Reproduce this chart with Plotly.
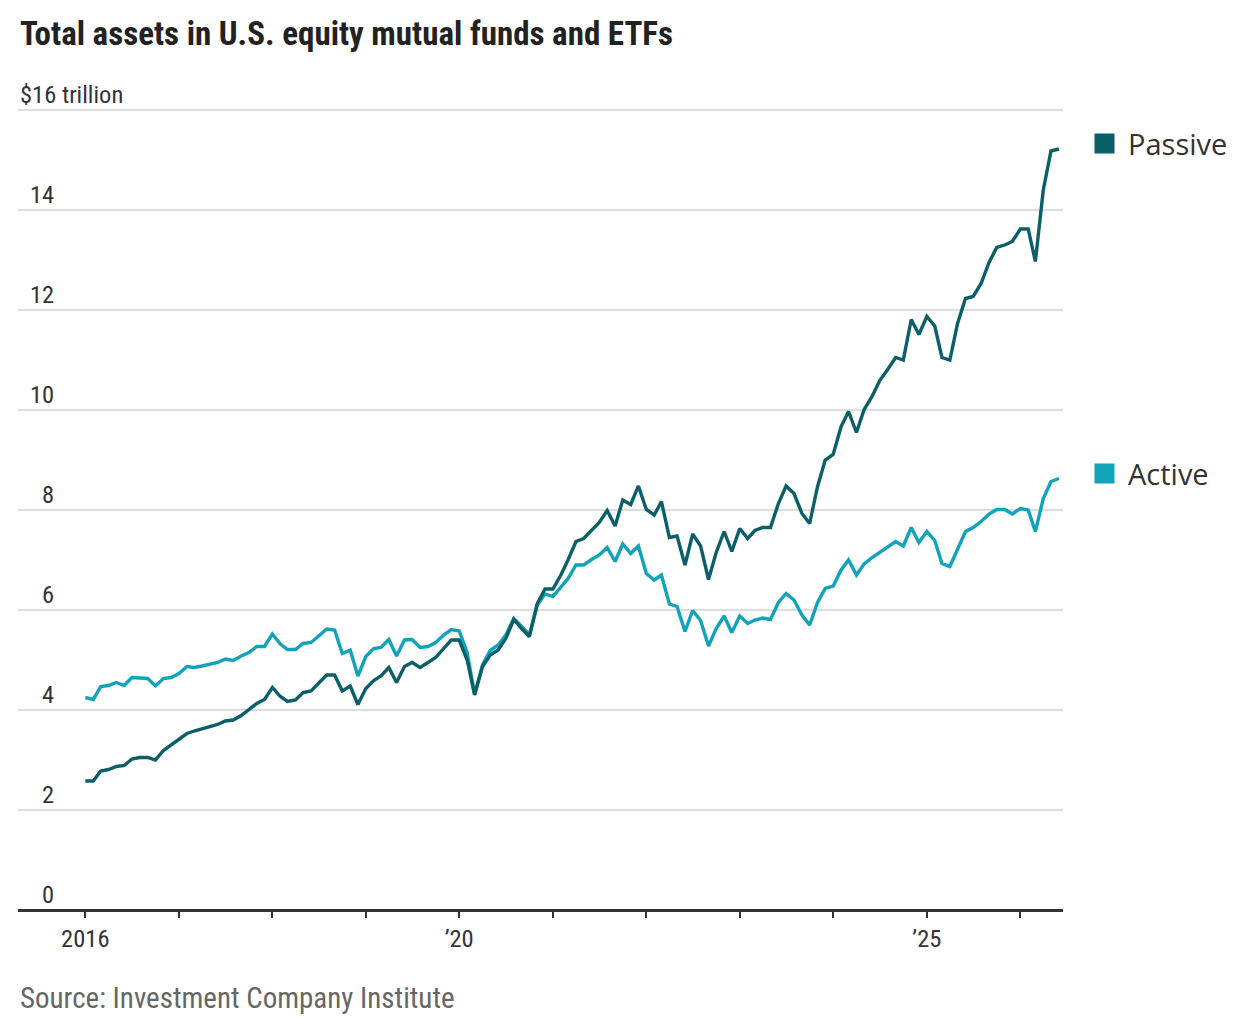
import pandas as pd
import plotly.graph_objects as go

# monthly, Jan 2016 - Jun 2026, $ trillion
months = pd.date_range("2016-01-01", "2026-06-01", freq="MS")

passive = [
    2.58, 2.58, 2.78, 2.81, 2.87, 2.89, 3.02, 3.05, 3.05, 3.00, 3.19, 3.30,
    3.40, 3.53, 3.58, 3.62, 3.67, 3.71, 3.78, 3.80, 3.89, 4.00, 4.13, 4.21,
    4.45, 4.27, 4.17, 4.20, 4.35, 4.38, 4.53, 4.70, 4.70, 4.38, 4.48, 4.11,
    4.43, 4.59, 4.68, 4.85, 4.55, 4.87, 4.95, 4.85, 4.95, 5.05, 5.23, 5.40,
    5.40, 5.00, 4.30, 4.87, 5.10, 5.20, 5.43, 5.81, 5.63, 5.47, 6.13, 6.42,
    6.42, 6.70, 7.00, 7.37, 7.43, 7.60, 7.75, 7.99, 7.68, 8.20, 8.11, 8.48,
    8.01, 7.90, 8.17, 7.45, 7.48, 6.90, 7.52, 7.28, 6.61, 7.15, 7.57, 7.17,
    7.63, 7.43, 7.59, 7.65, 7.65, 8.13, 8.48, 8.33, 7.93, 7.73, 8.47, 9.00,
    9.11, 9.67, 9.97, 9.55, 10.01, 10.27, 10.59, 10.81, 11.05, 11.00, 11.81, 11.51,
    11.87, 11.68, 11.05, 11.00, 11.73, 12.23, 12.27, 12.53, 12.95, 13.25, 13.30, 13.37,
    13.62, 13.62, 12.97, 14.40, 15.18, 15.22,
]

active = [
    4.25, 4.21, 4.47, 4.49, 4.55, 4.49, 4.65, 4.64, 4.63, 4.48, 4.63, 4.65,
    4.73, 4.87, 4.85, 4.88, 4.92, 4.95, 5.02, 4.99, 5.08, 5.15, 5.27, 5.27,
    5.52, 5.32, 5.21, 5.21, 5.33, 5.35, 5.48, 5.62, 5.60, 5.13, 5.20, 4.68,
    5.07, 5.23, 5.25, 5.41, 5.08, 5.40, 5.41, 5.25, 5.27, 5.35, 5.50, 5.61,
    5.58, 5.15, 4.32, 4.90, 5.19, 5.30, 5.50, 5.83, 5.67, 5.50, 6.10, 6.32,
    6.27, 6.47, 6.63, 6.90, 6.90, 7.01, 7.10, 7.25, 6.97, 7.32, 7.13, 7.28,
    6.73, 6.60, 6.70, 6.12, 6.07, 5.57, 5.99, 5.79, 5.28, 5.63, 5.88, 5.55,
    5.88, 5.73, 5.80, 5.84, 5.81, 6.15, 6.33, 6.20, 5.90, 5.70, 6.15, 6.43,
    6.48, 6.80, 7.00, 6.70, 6.92, 7.05, 7.15, 7.25, 7.37, 7.28, 7.65, 7.35,
    7.57, 7.39, 6.93, 6.87, 7.23, 7.57, 7.65, 7.77, 7.92, 8.01, 8.01, 7.92,
    8.03, 8.00, 7.57, 8.23, 8.57, 8.63,
]

y_ticks = [0, 2, 4, 6, 8, 10, 12, 14, 16]
y_labels = ["0", "2", "4", "6", "8", "10", "12", "14", "$16 trillion"]
x_ticks = [f"{yr}-01-01" for yr in range(2016, 2027)]
x_labels = ["2016", "", "", "", "\u201920", "", "", "", "", "\u201925", ""]

PASSIVE = "#0b5f69"
ACTIVE = "#10a3ba"
NARROW = "Liberation Sans Narrow, Roboto Condensed, DejaVu Sans Condensed, Roboto, sans-serif"

fig = go.Figure()
fig.add_trace(go.Scatter(x=months, y=active, mode="lines", name="Active",
                         line=dict(color=ACTIVE, width=3.4)))
fig.add_trace(go.Scatter(x=months, y=passive, mode="lines", name="Passive",
                         line=dict(color=PASSIVE, width=3.4)))

# y labels sit above the gridlines
for v, t in zip(y_ticks, y_labels):
    if v == 16:
        fig.add_annotation(x=0, xref="paper", y=v, yref="y", text=t, showarrow=False,
                           xanchor="left", yanchor="bottom", yshift=-1,
                           font=dict(family=NARROW, size=24.5, color="#333"))
    else:
        fig.add_annotation(x=0.0365, xref="paper", y=v, yref="y", text=t, showarrow=False,
                           xanchor="right", yanchor="bottom", yshift=-1,
                           font=dict(family=NARROW, size=24.5, color="#333"))

# end labels
for name, col, yv in [("Passive", PASSIVE, 15.34), ("Active", ACTIVE, 8.74)]:
    fig.add_annotation(x=1.0297, xref="paper", y=yv, yref="y", showarrow=False,
                       xanchor="left", yanchor="middle", text=" ",
                       width=19, height=19, bgcolor=col, borderpad=0)
    fig.add_annotation(x=1.0600, xref="paper", y=yv, yref="y", showarrow=False,
                       xanchor="left", yanchor="middle", text=name,
                       font=dict(family="Open Sans, sans-serif", size=29, color="#333"))

fig.add_annotation(x=0, xref="paper", y=1.0894, yref="paper", yanchor="middle",
                   xanchor="left", showarrow=False,
                   text="<b>Total assets in U.S. equity mutual funds and ETFs</b>",
                   font=dict(family=NARROW, size=33, color="#222"))
fig.add_annotation(x=0, xref="paper", y=-0.1093, yref="paper", yanchor="middle",
                   xanchor="left", showarrow=False,
                   text="Source: Investment Company Institute",
                   font=dict(family=NARROW, size=29, color="#666"))

fig.update_layout(
    width=1232, height=1024,
    margin=dict(l=10, r=177, t=97, b=122),
    plot_bgcolor="white", paper_bgcolor="white",
    showlegend=False,
    xaxis=dict(
        type="date", range=["2015-04-13", "2026-06-17"],
        tickvals=x_ticks, ticktext=x_labels,
        showgrid=False, zeroline=False,
        ticks="outside", ticklen=7, tickwidth=1.5, tickcolor="#333",
        tickfont=dict(family=NARROW, size=24.5, color="#333"),
        showline=False,
    ),
    yaxis=dict(
        range=[0, 16.1], tickvals=y_ticks, showticklabels=False,
        showgrid=True, gridcolor="#dddddd", gridwidth=1.5,
        zeroline=True, zerolinecolor="#333", zerolinewidth=2.5,
        showline=False,
    ),
)

fig.write_html("out.html")
